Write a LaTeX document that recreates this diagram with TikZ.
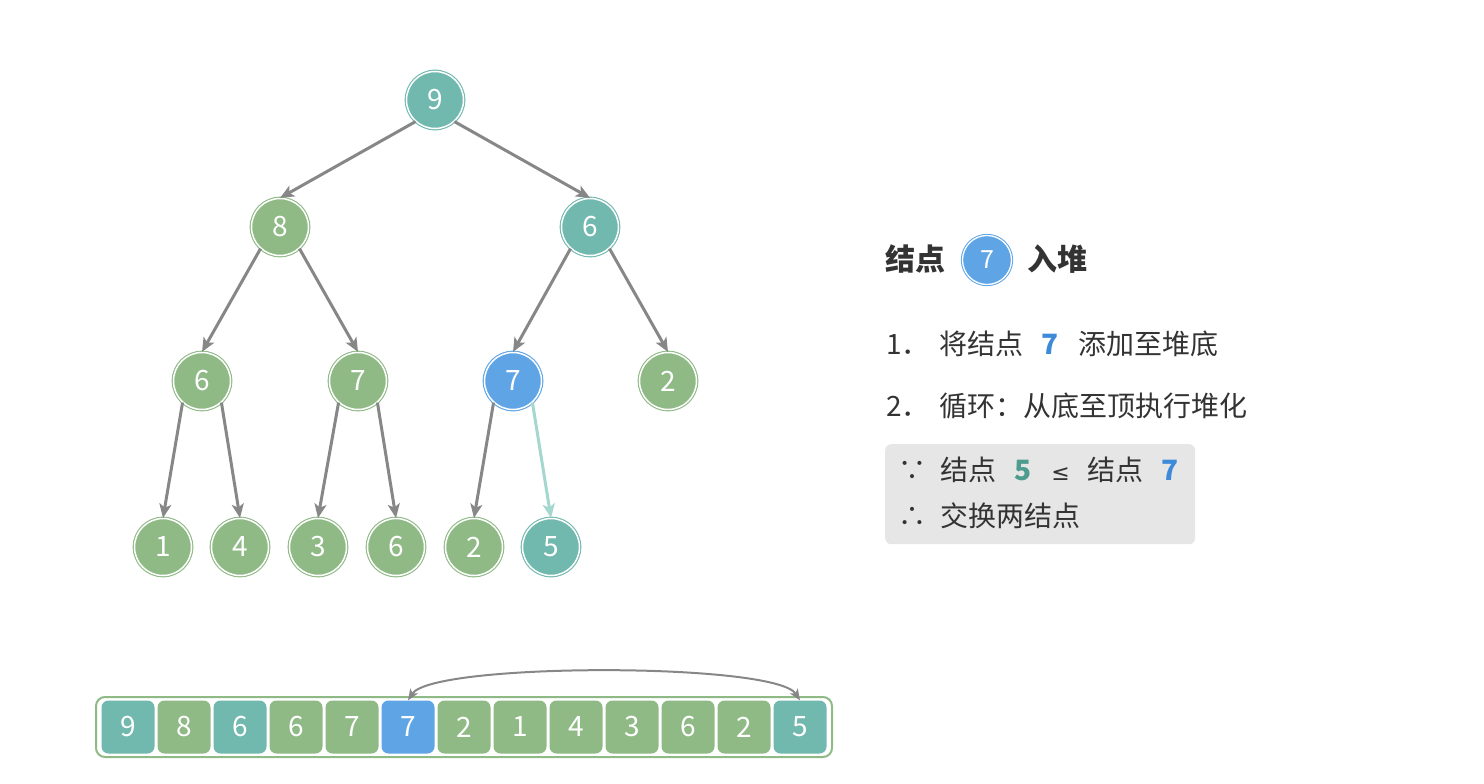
\documentclass[tikz,border=0pt]{standalone}
\usepackage{fontspec}
\setmainfont{Noto Sans CJK SC}
\newfontfamily\djv{DejaVu Sans}
\usetikzlibrary{arrows.meta}
\definecolor{cteal}{HTML}{71B8AE}
\definecolor{cgreen}{HTML}{8FBA86}
\definecolor{cblue}{HTML}{5FA5E6}
\definecolor{cedge}{HTML}{878787}
\definecolor{cledge}{HTML}{A3D7CF}
\definecolor{cbox}{HTML}{E6E6E6}
\definecolor{ctext}{HTML}{333333}
\definecolor{ttext}{HTML}{4D9C8F}
\definecolor{btext}{HTML}{3D8AD8}
\tikzset{
  hn/.style={circle, minimum size=57pt, inner sep=0pt, fill=#1, draw=#1, double=white,
    double distance=1.5pt, line width=1.1pt, text=white, font=\fontsize{28}{30}\selectfont},
  cell/.style={rectangle, rounded corners=7pt, minimum width=53pt, minimum height=53pt,
    inner sep=0pt, fill=#1, text=white, font=\fontsize{28}{30}\selectfont},
  edge/.style={draw=cedge, line width=3pt, -{Stealth[length=14pt, width=12pt, inset=3.5pt]}},
  ledge/.style={edge, draw=cledge},
  txt/.style={anchor=base west, inner sep=0pt, text=ctext, font=\fontsize{28}{30}\selectfont},
}
\begin{document}
\begin{tikzpicture}[x=1pt, y=-1pt]
\useasboundingbox (0,0) rectangle (1484,784);
% tree
\node[hn=cteal] (n9) at (435,100) {9};
\node[hn=cgreen] (n8) at (280,227) {8};
\node[hn=cteal] (n6) at (590,227) {6};
\node[hn=cgreen] (m6) at (202,381) {6};
\node[hn=cgreen] (m7) at (358,381) {7};
\node[hn=cblue] (b7) at (513,381) {7};
\node[hn=cgreen] (m2) at (668,381) {2};
\node[hn=cgreen] (l1) at (163,547) {1};
\node[hn=cgreen] (l4) at (240,547) {4};
\node[hn=cgreen] (l3) at (318,547) {3};
\node[hn=cgreen] (l6) at (396,547) {6};
\node[hn=cgreen] (l2) at (474,547) {2};
\node[hn=cteal] (l5) at (551,547) {5};
\draw[edge] (n9.-132) -- (n8.north);
\draw[edge] (n9.-48) -- (n6.north);
\draw[edge] (n8.-132) -- (m6.north);
\draw[edge] (n8.-48) -- (m7.north);
\draw[edge] (n6.-132) -- (b7.north);
\draw[edge] (n6.-48) -- (m2.north);
\draw[edge] (m6.-132) -- (l1.north);
\draw[edge] (m6.-48) -- (l4.north);
\draw[edge] (m7.-132) -- (l3.north);
\draw[edge] (m7.-48) -- (l6.north);
\draw[edge] (b7.-132) -- (l2.north);
\draw[ledge] (b7.-48) -- (l5.north);
% array
\node[draw=cgreen, line width=2pt, fill=white, rounded corners=9pt, minimum width=736pt,
  minimum height=60pt, inner sep=0pt] (arr) at (464,727) {};
\foreach \v/\c [count=\i] in {9/cteal,8/cgreen,6/cteal,6/cgreen,7/cgreen,7/cblue,2/cgreen,1/cgreen,4/cgreen,3/cgreen,6/cgreen,2/cgreen,5/cteal}
  \node[cell=\c] (c\i) at ({128+56*(\i-1)},727) {\v};
\draw[draw=cedge, line width=2pt, {Stealth[length=11pt, width=9pt, inset=2.5pt]}-{Stealth[length=11pt, width=9pt, inset=2.5pt]}]
  (c6.north) .. controls +(25,-38) and +(-25,-38) .. (c13.north);
% right panel
\node[txt, font=\fontsize{30}{32}\selectfont\bfseries] (title1) at (885,270) {结点};
\node[circle, minimum size=49pt, inner sep=0pt, fill=cblue, draw=cblue, double=white,
  double distance=1.3pt, line width=1pt, text=white, font=\fontsize{25}{27}\selectfont] (tc) at (987,260) {7};
\node[txt, font=\fontsize{30}{32}\selectfont\bfseries] (title2) at (1027,270) {入堆};
\node[txt] (s1) at (886,354) {1．\hspace{10pt}将结点\hspace{18pt}{\bfseries\color{btext}7}\hspace{20pt}添加至堆底};
\node[txt] (s2) at (886,416) {2．\hspace{10pt}循环：从底至顶执行堆化};
\node[fill=cbox, rounded corners=6pt, minimum width=310pt, minimum height=100pt,
  inner sep=0pt, anchor=north west] (box) at (885,444) {};
\node[txt] (b1) at (898,480) {∵\hspace{14pt}结点\hspace{18pt}{\bfseries\color{ttext}5}\hspace{20pt}{\djv\fontsize{22}{24}\selectfont ≤}\hspace{18pt}结点\hspace{18pt}{\bfseries\color{btext}7}};
\node[txt] (b2) at (898,526) {∴\hspace{14pt}交换两结点};
\end{tikzpicture}
\end{document}
